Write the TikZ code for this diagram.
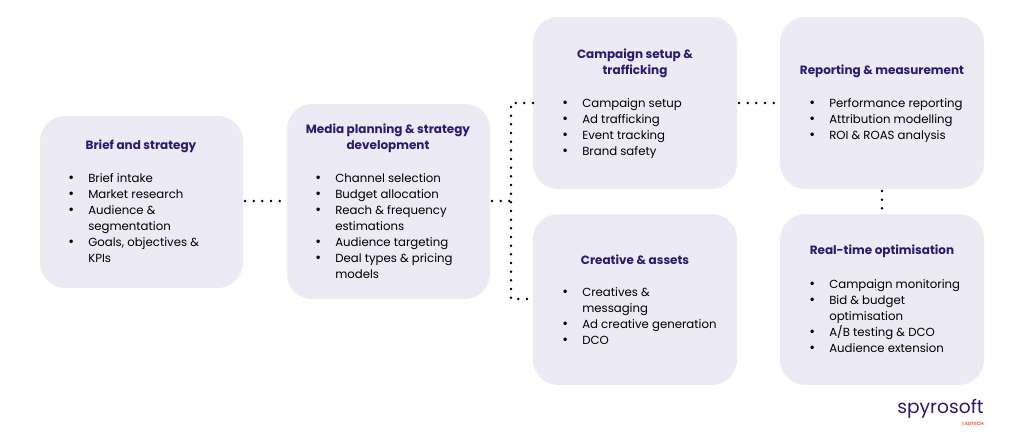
\documentclass[tikz,border=0pt]{standalone}
\usepackage{fontspec}
\setmainfont{Poppins}
\definecolor{boxc}{HTML}{EBEAF5}
\definecolor{navy}{HTML}{2A1B6E}
\definecolor{orng}{HTML}{F06A3A}
\newcommand{\blist}[1]{{\fontsize{8.8}{12}\selectfont\begin{tabular}{@{}p{15pt}@{}l@{}}#1\end{tabular}}}
\newcommand{\bi}{\raisebox{0.3pt}{\scalebox{1.2}{\textbullet}}}
\begin{document}
\begin{tikzpicture}[x=0.75pt,y=-0.75pt,
  box/.style={fill=boxc,rounded corners=19pt,draw=none},
  ttl/.style={font=\fontsize{9}{12}\selectfont\bfseries,text=navy,align=center,inner sep=0pt},
  lst/.style={anchor=north west,inner sep=0pt,text=black},
  dot/.style={line width=2.1pt,dash pattern=on 0pt off 6.5pt,line cap=round,draw=black}]
\useasboundingbox (0,0) rectangle (1024,439);
\fill[white] (0,0) rectangle (1024,439);
\path[box] (40,116) rectangle (243,288);
\path[box] (287,104) rectangle (490,299);
\path[box] (533,17) rectangle (737,189);
\path[box] (533,214) rectangle (737,385);
\path[box] (780,17) rectangle (984,189);
\path[box] (780,214) rectangle (984,385);
\coordinate (c12a) at (245,201); \coordinate (c12b) at (287,201);
\coordinate (c2) at (492,201); \coordinate (j) at (511,201);
\coordinate (jt) at (511,103); \coordinate (jb) at (511,299);
\coordinate (b3l) at (533,103); \coordinate (b4l) at (533,299);
\coordinate (b3r) at (739,103); \coordinate (b5l) at (780,103);
\coordinate (b5b) at (882,191); \coordinate (b6t) at (882,214);
\draw[dot] (c12a) -- (c12b);
\draw[dot] (c2) -- (j);
\draw[dot] (b3l) -- (jt) -- (jb) -- (b4l);
\draw[dot] (b3r) -- (b5l);
\draw[dot] (b5b) -- (b6t);
\node[ttl] (t1) at (141,146) {Brief and strategy};
\node[ttl] (t2) at (388,138) {Media planning \& strategy\\development};
\node[ttl] (t3) at (635,63) {Campaign setup \&\\trafficking};
\node[ttl] (t4) at (635,260) {Creative \& assets};
\node[ttl] (t5) at (882,71) {Reporting \& measurement};
\node[ttl] (t6) at (882,251) {Real-time optimisation};
\node[lst] (l1) at (68,171) {\blist{\bi&Brief intake\\\bi&Market research\\\bi&Audience \&\\&segmentation\\\bi&Goals, objectives \&\\&KPIs}};
\node[lst] (l2) at (315,171) {\blist{\bi&Channel selection\\\bi&Budget allocation\\\bi&Reach \& frequency\\&estimations\\\bi&Audience targeting\\\bi&Deal types \& pricing\\&models}};
\node[lst] (l3) at (562,96) {\blist{\bi&Campaign setup\\\bi&Ad trafficking\\\bi&Event tracking\\\bi&Brand safety}};
\node[lst] (l4) at (562,285) {\blist{\bi&Creatives \&\\&messaging\\\bi&Ad creative generation\\\bi&DCO}};
\node[lst] (l5) at (809,96) {\blist{\bi&Performance reporting\\\bi&Attribution modelling\\\bi&ROI \& ROAS analysis}};
\node[lst] (l6) at (809,277) {\blist{\bi&Campaign monitoring\\\bi&Bid \& budget\\&optimisation\\\bi&A/B testing \& DCO\\\bi&Audience extension}};
\node[anchor=east,inner sep=0pt,text=navy,font=\fontsize{14}{14}\selectfont] (logo) at (984,409) {spyrosoft};
\node[anchor=north east,inner sep=0pt,text=orng,font=\fontsize{3.5}{4}\selectfont\bfseries] (sub) at (984,421) {| ADTECH};
\end{tikzpicture}
\end{document}
